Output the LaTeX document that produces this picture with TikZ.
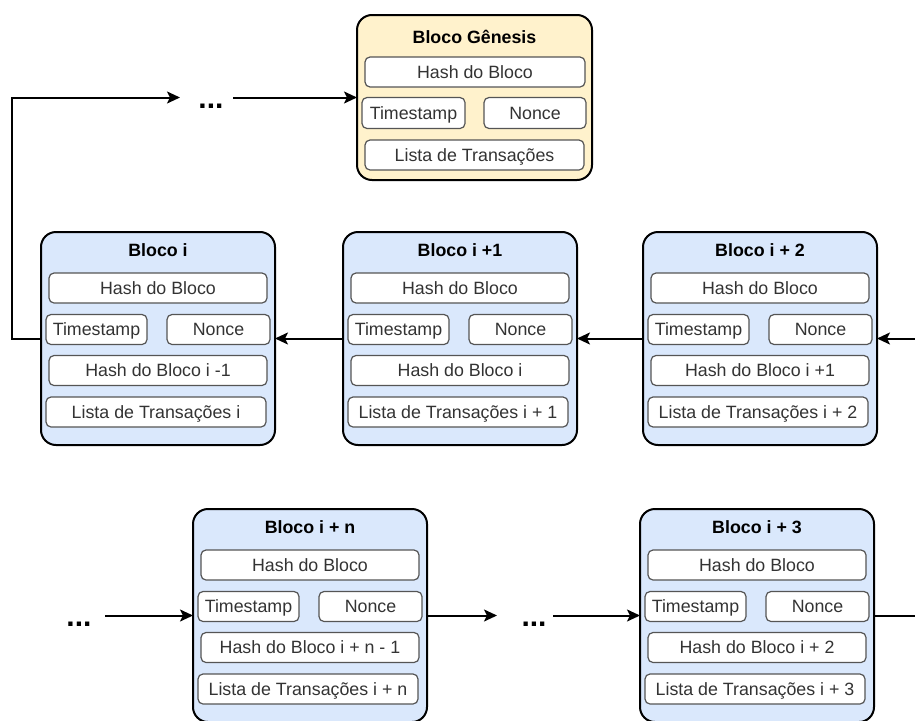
\documentclass[tikz,border=0pt]{standalone}
\usepackage{fontspec}
\setmainfont{Liberation Sans}
\usetikzlibrary{arrows.meta}
\definecolor{bluefill}{HTML}{DAE8FC}
\definecolor{yellowfill}{HTML}{FFF2CC}
\definecolor{innerline}{HTML}{555555}
\definecolor{innertext}{HTML}{333333}
\tikzset{
 blockbox/.style={draw=black, line width=2pt, rounded corners=15pt, inner sep=0pt, outer sep=0pt, anchor=north west},
 field/.style={draw=innerline, fill=white, line width=1.2pt, rounded corners=5pt, minimum height=30pt, inner sep=0pt, outer sep=0pt, text=innertext, font=\fontsize{17.8}{20}\selectfont, text height=15pt, text depth=2.3pt},
 blocktitle/.style={font=\fontsize{17.8}{20}\selectfont\bfseries, inner sep=0pt, text height=15pt, text depth=2.3pt},
 link/.style={line width=2pt, -{Stealth[length=13pt,width=12pt,inset=3pt]}},
 plainlink/.style={line width=2pt},
 ellip/.style={font=\fontsize{30}{30}\selectfont\bfseries, inner sep=0pt, outer sep=0pt, text height=22pt, text depth=0pt},
}
\newcommand{\chainblock}[6]{%
\begin{scope}[shift={(#2,#3)}]
\node[blockbox, fill=bluefill, minimum width=234pt, minimum height=213pt] (#1) at (0,0) {};
\node[blocktitle] (#1-t) at (117,18) {#4};
\node[field, minimum width=218pt] (#1-h) at (117,56) {Hash do Bloco};
\node[field, minimum width=101pt] (#1-ts) at (55.5,97.5) {Timestamp};
\node[field, minimum width=103pt] (#1-n) at (177.5,97.5) {Nonce};
\node[field, minimum width=218pt] (#1-p) at (117,138.5) {#5};
\node[field, minimum width=220pt] (#1-l) at (115,180) {#6};
\end{scope}}
\begin{document}
\begin{tikzpicture}[x=1pt,y=-1pt]
\useasboundingbox (0,0) rectangle (915,720);
% genesis
\begin{scope}[shift={(357,15)}]
\node[blockbox, fill=yellowfill, minimum width=235pt, minimum height=165pt] (gen) at (0,0) {};
\node[blocktitle] (gen-t) at (117.5,22) {Bloco Gênesis};
\node[field, minimum width=220pt] (gen-h) at (118,57) {Hash do Bloco};
\node[field, minimum width=103pt, minimum height=31pt] (gen-ts) at (56.5,98) {Timestamp};
\node[field, minimum width=102pt, minimum height=31pt] (gen-n) at (178,98) {Nonce};
\node[field, minimum width=219pt] (gen-l) at (117.5,140) {Lista de Transações};
\end{scope}
% top row
\chainblock{b0}{41}{232}{Bloco i}{Hash do Bloco i -1}{Lista de Transações i}
\chainblock{b1}{343}{232}{Bloco i +1}{Hash do Bloco i}{Lista de Transações i + 1}
\chainblock{b2}{643}{232}{Bloco i + 2}{Hash do Bloco i +1}{Lista de Transações i + 2}
% bottom row
\chainblock{bn}{193}{509}{Bloco i + n}{Hash do Bloco i + n - 1}{Lista de Transações i + n}
\chainblock{b3}{640}{509}{Bloco i + 3}{Hash do Bloco i + 2}{Lista de Transações i + 3}
% ellipses
\node[ellip, minimum width=53pt] (dA) at (206.5,97.5) {\kern9pt...};
\node[ellip, minimum width=52pt] (dB) at (79,615.5) {...};
\node[ellip, minimum width=56pt] (dC) at (525,615.5) {\kern18pt...};
% free ends
\coordinate (loopc) at (12,97.5);
\coordinate (r1) at (915,338.5);
\coordinate (r2) at (915,615.5);
% connectors
\draw[link] (r1) -- (b2.east);
\draw[link] (b2.west) -- (b1.east);
\draw[link] (b1.west) -- (b0.east);
\draw[link] (b0.west) -| (loopc) -- (dA.west);
\draw[link] (dA.east) -- (gen.west);
\draw[link] (dB.east) -- (bn.west);
\draw[link] (bn.east) -- (dC.west);
\draw[link] (dC.east) -- (b3.west);
\draw[plainlink] (b3.east) -- (r2);
\end{tikzpicture}
\end{document}
